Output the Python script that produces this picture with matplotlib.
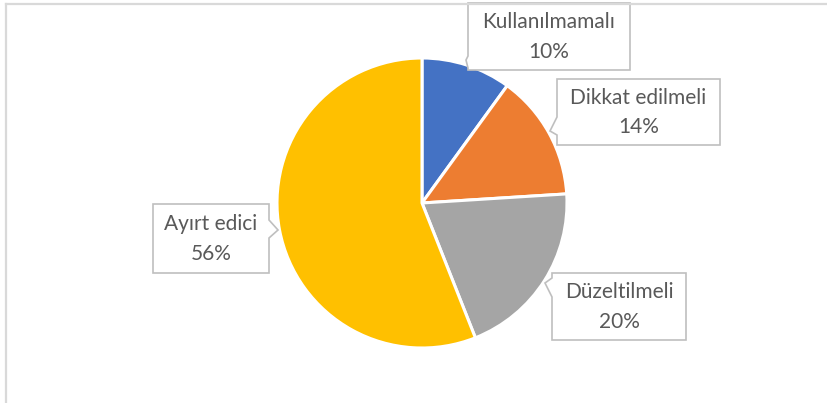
import matplotlib
matplotlib.use("Agg")
import matplotlib.pyplot as plt
from matplotlib.patches import Polygon
from matplotlib.lines import Line2D

categories = ["Kullanılmamalı", "Dikkat edilmeli", "Düzeltilmeli", "Ayırt edici"]
values = [10, 14, 20, 56]
colors = ["#4472C4", "#ED7D31", "#A5A5A5", "#FFC000"]

W, H = 827, 403
fig = plt.figure(figsize=(W / 100, H / 100), dpi=100)
ax = fig.add_axes([0, 0, 1, 1])
ax.set_xlim(0, W)
ax.set_ylim(0, H)
ax.set_aspect("equal")
ax.axis("off")

def Y(y):
    return H - y

# chart border (top and left visible)
fig.add_artist(Line2D([5.5 / W, 5.5 / W], [0, 1 - 3.5 / H], color="#D9D9D9", lw=1.6, transform=fig.transFigure))
fig.add_artist(Line2D([5.5 / W, 1], [1 - 3.5 / H, 1 - 3.5 / H], color="#D9D9D9", lw=1.6, transform=fig.transFigure))

cx, cy, r = 422, Y(203), 145
ax.pie(values, colors=colors, startangle=90, counterclock=False,
       center=(cx, cy), radius=r, frame=True,
       wedgeprops=dict(edgecolor="white", linewidth=2.2))
ax.set_xlim(0, W)
ax.set_ylim(0, H)
ax.axis("off")

# callout layout: box (x0, y0, x1, y1) in pixels, pointer (side, base a, base b, tip)
layout = {
    "Kullanılmamalı": ((468, 3, 630, 70), ("left", 56, 68, (466, 60))),
    "Dikkat edilmeli": ((557, 79, 720, 145), ("left", 117, 135, (550, 131))),
    "Düzeltilmeli": ((552, 273, 686, 340), ("left", 278, 297, (545, 283))),
    "Ayırt edici": ((153, 204, 269, 273), ("right", 220, 238, (278, 230))),
}

for cat, v in zip(categories, values):
    (x0, y0, x1, y1), (side, a, b, tip) = layout[cat]
    if side == "left":
        pts = [(x0, y0), (x1, y0), (x1, y1), (x0, y1), (x0, b), tip, (x0, a)]
    else:
        pts = [(x0, y0), (x1, y0), (x1, a), tip, (x1, b), (x1, y1), (x0, y1)]
    pts = [(px, Y(py)) for px, py in pts]
    ax.add_patch(Polygon(pts, closed=True, facecolor="white", edgecolor="#BFBFBF", lw=1.2, zorder=5))
    xc = (x0 + x1) / 2
    ym = (y0 + y1) / 2
    ax.text(xc, Y(ym - 14), cat, ha="center", va="center", fontsize=15,
            color="#595959", family="Lato", zorder=6)
    ax.text(xc, Y(ym + 15), f"{v}%", ha="center", va="center", fontsize=15,
            color="#595959", family="Lato", zorder=6)

fig.savefig("out.png", dpi=100)
